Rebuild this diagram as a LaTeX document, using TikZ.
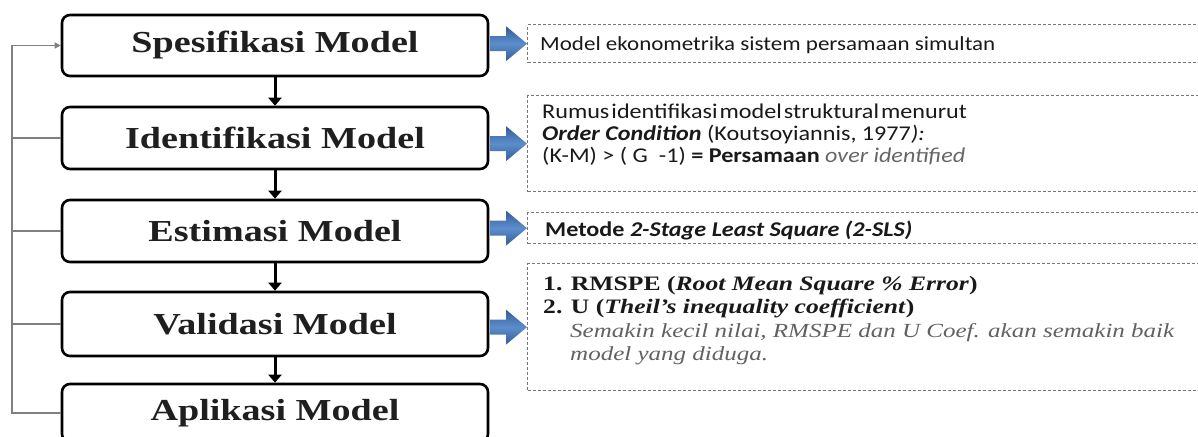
\documentclass[tikz,border=0pt]{standalone}
\usepackage{fontspec}
\setmainfont{Liberation Serif}
\newfontfamily\boxfont[FakeStretch=1.25]{Liberation Serif}
\newfontfamily\calfont[FakeStretch=1.15]{Carlito}
\usetikzlibrary{arrows.meta,calc}
\definecolor{arrowdark}{RGB}{52,92,150}
\definecolor{arrowlight}{RGB}{92,142,204}
\definecolor{fbgray}{RGB}{128,128,128}
\definecolor{dashgray}{RGB}{120,120,120}
\newcommand\infoarrow[1]{%
  \shade[top color=arrowdark,bottom color=arrowdark,middle color=arrowlight]
    (#1) -- ++(-21,-17.5) -- ++(0,10) -- ++(-16,0) -- ++(0,15) -- ++(16,0) -- ++(0,10) -- cycle;}
\begin{document}
\begin{tikzpicture}[x=1pt,y=-1pt,
  stage/.style={draw=black, line width=2.6pt, rounded corners=8pt, fill=white,
    minimum width=426pt, inner sep=0pt,
    font=\boxfont\bfseries\fontsize{30.5}{34}\selectfont, text=black!88},
  info/.style={draw=dashgray, dash pattern=on 3pt off 2pt, line width=1.3pt,
    anchor=north west, inner sep=0pt, minimum width=700pt, overlay},
  down/.style={-{Triangle[width=13pt,length=8pt]}, line width=3pt},
  fb/.style={draw=fbgray, line width=1.3pt},
  cal/.style={anchor=base west, inner sep=0pt, text=black!90,
    font=\calfont\fontsize{21}{22}\selectfont},
  ser/.style={anchor=base west, inner sep=0pt, text=black!90,
    font=\boxfont\bfseries\fontsize{20.5}{24}\selectfont},
  seri/.style={anchor=base west, inner sep=0pt, text=black!62,
    font=\boxfont\itshape\fontsize{20}{24}\selectfont},
]
\useasboundingbox (0,0) rectangle (1198,436);
\begin{scope}
\clip (0,0) rectangle (1198,436);
% stages
\node[stage, minimum height=61pt] (s1) at (275,45.5) {Spesifikasi Model};
\node[stage, minimum height=62pt] (s2) at (275,138) {Identifikasi Model};
\node[stage, minimum height=62pt] (s3) at (275,231) {Estimasi Model};
\node[stage, minimum height=64pt] (s4) at (275,324) {Validasi Model};
\node[stage, minimum height=58pt, overlay] (s5) at (275,413) {Aplikasi Model};
\draw[down] (s1.south) -- (s2.north);
\draw[down] (s2.south) -- (s3.north);
\draw[down] (s3.south) -- (s4.north);
\draw[down] (s4.south) -- (s5.north);
% feedback
\coordinate (fbx) at (12,0);
\draw[fb, -{Triangle[width=6pt,length=6pt]}] (s5.west) -- (s5.west -| fbx) |- (s1.west);
\draw[fb] (s2.west) -- (s2.west -| fbx);
\draw[fb] (s3.west) -- (s3.west -| fbx);
\draw[fb] (s4.west) -- (s4.west -| fbx);
% info boxes
\node[info, minimum height=38pt] (iA) at (527,24) {};
\node[info, minimum height=96pt] (iB) at (527,95) {};
\node[info, minimum height=31pt] (iC) at (527,212) {};
\node[info, minimum height=127pt] (iD) at (527,263) {};
\infoarrow{iA.west}
\infoarrow{iB.west}
\infoarrow{iC.west}
\infoarrow{iD.west}
% texts
\node[cal, font=\calfont\fontsize{20}{24}\selectfont] (tA) at (540,51) {Model ekonometrika sistem persamaan simultan};
\node[cal] (tB1) at (542,118) {\spaceskip=0.1em Rumus identifikasi model struktural menurut};
\node[cal] (tB2) at (542,140) {\textbf{\textit{Order Condition}} (Koutsoyiannis, 1977\textit{):}};
\node[cal] (tB3) at (542,162) {(K-M) > ( G\ \ -1) \textbf{= Persamaan} \textcolor{black!60}{\textit{over identified}}};
\node[cal, font=\calfont\bfseries\fontsize{21}{24}\selectfont] (tC) at (545,236) {Metode \textit{2-Stage Least Square (2-SLS)}};
\node[ser] (tD1) at (543,290) {1. RMSPE (\textit{Root Mean Square \% Error})};
\node[ser] (tD2) at (543,313) {2. U (\textit{Theil’s inequality coefficient})};
\node[seri] (tD3) at (570,337) {Semakin kecil nilai, RMSPE dan U Coef. akan semakin baik};
\node[seri] (tD4) at (570,360) {model yang diduga.};
\end{scope}
\end{tikzpicture}
\end{document}
